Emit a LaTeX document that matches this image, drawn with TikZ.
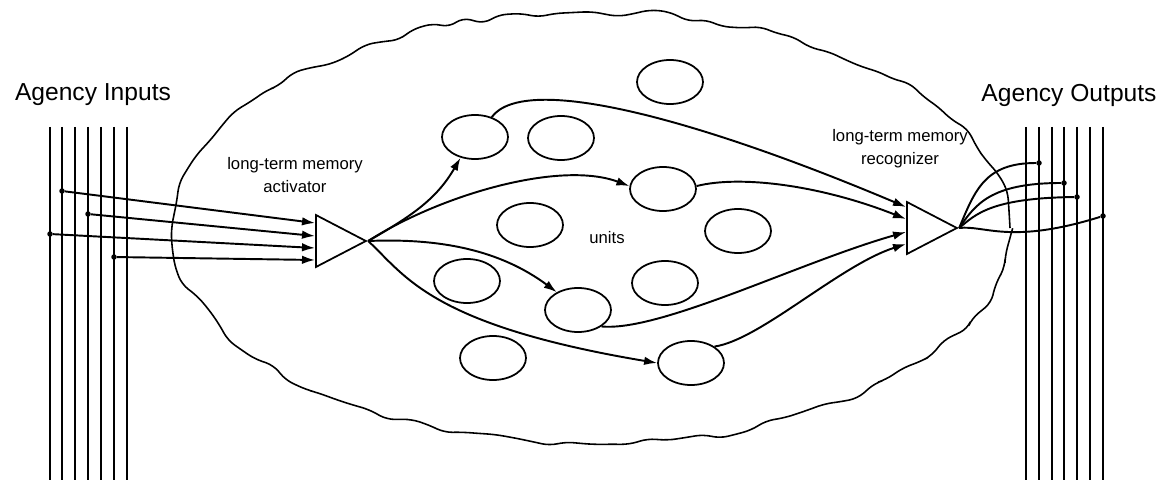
\documentclass[tikz,border=0pt]{standalone}
\usepackage{fontspec}
\setmainfont{Liberation Sans}
\usetikzlibrary{shapes.geometric,arrows.meta,decorations.pathmorphing,calc}

\tikzset{
  unit/.style={draw, ellipse, minimum width=13.2mm, minimum height=8.8mm, inner sep=0pt, line width=1pt},
  gate/.style={draw, isosceles triangle, isosceles triangle stretches, minimum width=10.4mm, minimum height=10mm, inner sep=0pt, line width=1pt},
  tap/.style={circle, fill, inner sep=0pt, minimum size=1.1mm},
  wire/.style={line width=1.1pt},
  sig/.style={line width=1.1pt, -{Latex[length=2.6mm,width=1.7mm]}},
  lbl/.style={font=\fontsize{9.5}{13}\selectfont, align=center},
  headtxt/.style={font=\fontsize{14}{16}\selectfont}
}

\begin{document}
\begin{tikzpicture}[x=0.2mm, y=-0.2mm]
\useasboundingbox (0,0) rectangle (1165,480);
% the agency
\pgfmathsetseed{7}
\draw[decorate, decoration={random steps, segment length=3.6mm, amplitude=0.9mm}, rounded corners=1.6mm, line width=0.9pt] (592,228) ellipse [x radius=83.6mm, y radius=43.2mm];

% input and output buses
\draw[wire] (50,127) -- (50,480) (62,127) -- (62,480) (75,127) -- (75,480) (88,127) -- (88,480)
  (101,127) -- (101,480) (114,127) -- (114,480) (127,127) -- (127,480);
\draw[wire] (1026,127) -- (1026,480) (1039,127) -- (1039,480) (1052,127) -- (1052,480) (1064,127) -- (1064,480)
  (1077,127) -- (1077,480) (1090,127) -- (1090,480) (1103,127) -- (1103,480);

\node[headtxt] (inlbl) at (93,95) {Agency Inputs};
\node[headtxt] (outlbl) at (1069,95) {Agency Outputs};
\node[lbl] (actlbl) at (295,175) {long-term memory\\activator};
\node[lbl] (reclbl) at (900,149) {long-term memory\\recognizer};
\node[lbl] (unitslbl) at (607,238) {units};

\node[gate, anchor=lower side] (act) at (315,241) {};
\node[gate, anchor=lower side] (rec) at (906,228) {};

\node[unit] (u1) at (670,82) {};
\node[unit] (u2) at (475,137) {};
\node[unit] (u3) at (561,138) {};
\node[unit] (u4) at (663,189) {};
\node[unit] (u5) at (530,225) {};
\node[unit] (u6) at (738,231) {};
\node[unit] (u7) at (467,281) {};
\node[unit] (u8) at (665,283) {};
\node[unit] (u9) at (578,310) {};
\node[unit] (u10) at (493,358) {};
\node[unit] (u11) at (691,363) {};

% taps on the buses
\node[tap] (i1) at (62,191) {};
\node[tap] (i2) at (88,214) {};
\node[tap] (i3) at (50,234) {};
\node[tap] (i4) at (114,257) {};
\node[tap] (o1) at (1039,163) {};
\node[tap] (o2) at (1064,183) {};
\node[tap] (o3) at (1077,197) {};
\node[tap] (o4) at (1103,216) {};

\draw[sig] (i1) -- ($(act.lower side)+(0,-18)$);
\draw[sig] (i2) -- ($(act.lower side)+(0,-5)$);
\draw[sig] (i3) -- ($(act.lower side)+(0,7)$);
\draw[sig] (i4) -- ($(act.lower side)+(0,19)$);

\draw[sig] (act.apex) to[out=30, in=240] (u2.235);
\draw[sig] (act.apex) .. controls (440,195) and (560,160) .. (u4.175);
\draw[sig] (act.apex) .. controls (440,238) and (500,250) .. (u9.140);
\draw[sig] (act.apex) .. controls (405,275) and (430,325) .. (u11.180);

\draw[sig] (u2.50) .. controls (525,72) and (700,120) .. ($(rec.lower side)+(0,-21)$);
\draw[sig] (u4.5) .. controls (740,175) and (820,185) .. ($(rec.lower side)+(0,-9)$);
\draw[sig] (u9.-35) .. controls (660,332) and (800,262) .. ($(rec.lower side)+(0,4)$);
\draw[sig] (u11.35) .. controls (760,340) and (840,265) .. ($(rec.lower side)+(0,16)$);

\draw[wire] (rec.apex) .. controls (975,190) and (985,163) .. (o1);
\draw[wire] (rec.apex) .. controls (975,205) and (990,183) .. (o2);
\draw[wire] (rec.apex) .. controls (975,215) and (990,198) .. (o3);
\draw[wire] (rec.apex) .. controls (985,225) and (1010,245) .. (o4);
\end{tikzpicture}
\end{document}
